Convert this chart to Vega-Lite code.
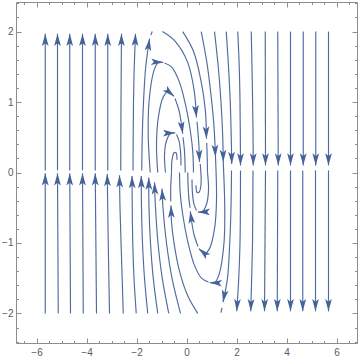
{
"$schema":"https://vega.github.io/schema/vega-lite/v6.json",
"width":341,"height":341,
"autosize":{"type":"none"},
"padding":{"left":16,"top":2,"right":3,"bottom":18},
"config":{"view":{"stroke":"#8c8c8c","strokeWidth":1},"axis":{"domain":false,"grid":false,"labelFont":"Liberation Sans","labelFontSize":10,"labelColor":"#5a5a5a","tickColor":"#8c8c8c","tickWidth":1,"title":null}},
"datasets":{
"lines":[
{"s":1,"i":0,"x":-5.65,"y":0.03},{"s":1,"i":1,"x":-5.65,"y":1.97},
{"s":2,"i":0,"x":-5.16,"y":0.03},{"s":2,"i":1,"x":-5.16,"y":1.97},
{"s":3,"i":0,"x":-4.67,"y":0.03},{"s":3,"i":1,"x":-4.67,"y":1.97},
{"s":4,"i":0,"x":-4.16,"y":0.03},{"s":4,"i":1,"x":-4.16,"y":1.97},
{"s":5,"i":0,"x":-3.65,"y":0.03},{"s":5,"i":1,"x":-3.65,"y":1.97},
{"s":6,"i":0,"x":-3.15,"y":0.03},{"s":6,"i":1,"x":-3.15,"y":1.97},
{"s":7,"i":0,"x":-2.63,"y":0.03},{"s":7,"i":1,"x":-2.62,"y":1.0},{"s":7,"i":2,"x":-2.6,"y":1.97},
{"s":8,"i":0,"x":-2.14,"y":0.03},{"s":8,"i":1,"x":-2.12,"y":1.0},{"s":8,"i":2,"x":-2.09,"y":1.5},{"s":8,"i":3,"x":-2.04,"y":1.97},
{"s":9,"i":0,"x":-1.79,"y":0.03},{"s":9,"i":1,"x":-1.77,"y":0.5},{"s":9,"i":2,"x":-1.72,"y":1.0},{"s":9,"i":3,"x":-1.63,"y":1.5},{"s":9,"i":4,"x":-1.48,"y":1.9},
{"s":10,"i":0,"x":-1.43,"y":1.95},{"s":10,"i":1,"x":-1.37,"y":2.0},
{"s":11,"i":0,"x":5.68,"y":2},{"s":11,"i":1,"x":5.68,"y":0.1},
{"s":12,"i":0,"x":5.17,"y":2},{"s":12,"i":1,"x":5.17,"y":0.1},
{"s":13,"i":0,"x":4.67,"y":2},{"s":13,"i":1,"x":4.67,"y":0.1},
{"s":14,"i":0,"x":4.16,"y":2},{"s":14,"i":1,"x":4.16,"y":0.1},
{"s":15,"i":0,"x":3.65,"y":2},{"s":15,"i":1,"x":3.67,"y":0.1},
{"s":16,"i":0,"x":3.15,"y":2},{"s":16,"i":1,"x":3.16,"y":0.1},
{"s":17,"i":0,"x":2.59,"y":2},{"s":17,"i":1,"x":2.63,"y":1.3},{"s":17,"i":2,"x":2.66,"y":0.6},{"s":17,"i":3,"x":2.67,"y":0.1},
{"s":18,"i":0,"x":2.05,"y":2},{"s":18,"i":1,"x":2.11,"y":1.5},{"s":18,"i":2,"x":2.14,"y":1.0},{"s":18,"i":3,"x":2.16,"y":0.1},
{"s":19,"i":0,"x":1.59,"y":2},{"s":19,"i":1,"x":1.68,"y":1.5},{"s":19,"i":2,"x":1.75,"y":1.0},{"s":19,"i":3,"x":1.79,"y":0.5},{"s":19,"i":4,"x":1.81,"y":0.12},
{"s":20,"i":0,"x":1.12,"y":2},{"s":20,"i":1,"x":1.27,"y":1.5},{"s":20,"i":2,"x":1.38,"y":1.0},{"s":20,"i":3,"x":1.45,"y":0.5},{"s":20,"i":4,"x":1.47,"y":0.15},
{"s":21,"i":0,"x":0.59,"y":2},{"s":21,"i":1,"x":0.82,"y":1.55},{"s":21,"i":2,"x":0.98,"y":1.1},{"s":21,"i":3,"x":1.1,"y":0.65},{"s":21,"i":4,"x":1.16,"y":0.22},
{"s":22,"i":0,"x":-0.15,"y":2},{"s":22,"i":1,"x":0.28,"y":1.72},{"s":22,"i":2,"x":0.58,"y":1.3},{"s":22,"i":3,"x":0.75,"y":0.9},{"s":22,"i":4,"x":0.8,"y":0.48},
{"s":23,"i":0,"x":0.81,"y":0.42},{"s":23,"i":1,"x":0.83,"y":0.2},{"s":23,"i":2,"x":0.84,"y":0.0},
{"s":24,"i":0,"x":-0.96,"y":2},{"s":24,"i":1,"x":-0.45,"y":1.86},{"s":24,"i":2,"x":0.05,"y":1.56},{"s":24,"i":3,"x":0.3,"y":1.18},{"s":24,"i":4,"x":0.4,"y":0.78},
{"s":25,"i":0,"x":0.42,"y":0.72},{"s":25,"i":1,"x":0.49,"y":0.42},{"s":25,"i":2,"x":0.52,"y":0.15},
{"s":26,"i":0,"x":-1.45,"y":0.0},{"s":26,"i":1,"x":-1.53,"y":0.5},{"s":26,"i":2,"x":-1.5,"y":1.0},{"s":26,"i":3,"x":-1.3,"y":1.45},{"s":26,"i":4,"x":-1.12,"y":1.565},{"s":26,"i":5,"x":-0.93,"y":1.56},
{"s":27,"i":0,"x":-0.88,"y":1.555},{"s":27,"i":1,"x":-0.6,"y":1.5},{"s":27,"i":2,"x":-0.3,"y":1.3},{"s":27,"i":3,"x":-0.05,"y":0.98},{"s":27,"i":4,"x":0.15,"y":0.6},{"s":27,"i":5,"x":0.25,"y":0.3},{"s":27,"i":6,"x":0.28,"y":0.0},
{"s":28,"i":0,"x":-1.15,"y":0.0},{"s":28,"i":1,"x":-1.2,"y":0.4},{"s":28,"i":2,"x":-1.12,"y":0.8},{"s":28,"i":3,"x":-0.92,"y":1.08},{"s":28,"i":4,"x":-0.72,"y":1.15},{"s":28,"i":5,"x":-0.5,"y":1.08},
{"s":29,"i":0,"x":-0.46,"y":1.05},{"s":29,"i":1,"x":-0.3,"y":0.88},{"s":29,"i":2,"x":-0.2,"y":0.68},{"s":29,"i":3,"x":-0.15,"y":0.55},
{"s":30,"i":0,"x":-0.14,"y":0.5},{"s":30,"i":1,"x":-0.08,"y":0.3},{"s":30,"i":2,"x":-0.05,"y":0.0},
{"s":31,"i":0,"x":-0.84,"y":0.0},{"s":31,"i":1,"x":-0.88,"y":0.25},{"s":31,"i":2,"x":-0.8,"y":0.45},{"s":31,"i":3,"x":-0.62,"y":0.56},{"s":31,"i":4,"x":-0.45,"y":0.56},
{"s":32,"i":0,"x":-0.4,"y":0.54},{"s":32,"i":1,"x":-0.3,"y":0.45},{"s":32,"i":2,"x":-0.24,"y":0.3},{"s":32,"i":3,"x":-0.22,"y":0.1},
{"s":33,"i":0,"x":-0.6,"y":0.0},{"s":33,"i":1,"x":-0.58,"y":0.17},{"s":33,"i":2,"x":-0.5,"y":0.28},{"s":33,"i":3,"x":-0.42,"y":0.28},{"s":33,"i":4,"x":-0.38,"y":0.18},
{"s":34,"i":0,"x":-5.65,"y":-2},{"s":34,"i":1,"x":-5.65,"y":-0.01},
{"s":35,"i":0,"x":-5.13,"y":-2},{"s":35,"i":1,"x":-5.16,"y":-0.01},
{"s":36,"i":0,"x":-4.64,"y":-2},{"s":36,"i":1,"x":-4.67,"y":-0.01},
{"s":37,"i":0,"x":-4.13,"y":-2},{"s":37,"i":1,"x":-4.16,"y":-0.01},
{"s":38,"i":0,"x":-3.6,"y":-2},{"s":38,"i":1,"x":-3.65,"y":-0.01},
{"s":39,"i":0,"x":-3.08,"y":-2},{"s":39,"i":1,"x":-3.13,"y":-1.0},{"s":39,"i":2,"x":-3.17,"y":-0.02},
{"s":40,"i":0,"x":-2.53,"y":-2},{"s":40,"i":1,"x":-2.6,"y":-1.2},{"s":40,"i":2,"x":-2.66,"y":-0.5},{"s":40,"i":3,"x":-2.68,"y":-0.04},
{"s":41,"i":0,"x":-2.01,"y":-2},{"s":41,"i":1,"x":-2.1,"y":-1.5},{"s":41,"i":2,"x":-2.15,"y":-1.0},{"s":41,"i":3,"x":-2.18,"y":-0.05},
{"s":42,"i":0,"x":-1.55,"y":-2},{"s":42,"i":1,"x":-1.68,"y":-1.5},{"s":42,"i":2,"x":-1.76,"y":-1.0},{"s":42,"i":3,"x":-1.8,"y":-0.5},{"s":42,"i":4,"x":-1.81,"y":-0.05},
{"s":43,"i":0,"x":-1.15,"y":-2},{"s":43,"i":1,"x":-1.33,"y":-1.5},{"s":43,"i":2,"x":-1.44,"y":-1.0},{"s":43,"i":3,"x":-1.5,"y":-0.5},{"s":43,"i":4,"x":-1.51,"y":-0.07},
{"s":44,"i":0,"x":-0.71,"y":-2},{"s":44,"i":1,"x":-0.97,"y":-1.5},{"s":44,"i":2,"x":-1.14,"y":-1.0},{"s":44,"i":3,"x":-1.24,"y":-0.5},{"s":44,"i":4,"x":-1.28,"y":-0.14},
{"s":45,"i":0,"x":-0.24,"y":-2},{"s":45,"i":1,"x":-0.58,"y":-1.5},{"s":45,"i":2,"x":-0.8,"y":-1.0},{"s":45,"i":3,"x":-0.93,"y":-0.55},{"s":45,"i":4,"x":-0.98,"y":-0.23},
{"s":46,"i":0,"x":0.45,"y":-2},{"s":46,"i":1,"x":0.05,"y":-1.75},{"s":46,"i":2,"x":-0.28,"y":-1.4},{"s":46,"i":3,"x":-0.5,"y":-1.0},{"s":46,"i":4,"x":-0.6,"y":-0.7},{"s":46,"i":5,"x":-0.62,"y":-0.47},
{"s":47,"i":0,"x":-0.63,"y":-0.41},{"s":47,"i":1,"x":-0.63,"y":-0.2},{"s":47,"i":2,"x":-0.6,"y":0.0},
{"s":48,"i":0,"x":5.68,"y":0.03},{"s":48,"i":1,"x":5.68,"y":-1.97},
{"s":49,"i":0,"x":5.16,"y":0.03},{"s":49,"i":1,"x":5.16,"y":-1.97},
{"s":50,"i":0,"x":4.65,"y":0.03},{"s":50,"i":1,"x":4.65,"y":-1.97},
{"s":51,"i":0,"x":4.16,"y":0.03},{"s":51,"i":1,"x":4.16,"y":-1.97},
{"s":52,"i":0,"x":3.65,"y":0.03},{"s":52,"i":1,"x":3.63,"y":-1.97},
{"s":53,"i":0,"x":3.16,"y":0.03},{"s":53,"i":1,"x":3.12,"y":-1.97},
{"s":54,"i":0,"x":2.66,"y":0.03},{"s":54,"i":1,"x":2.64,"y":-1.0},{"s":54,"i":2,"x":2.57,"y":-1.97},
{"s":55,"i":0,"x":2.16,"y":0.03},{"s":55,"i":1,"x":2.14,"y":-1.0},{"s":55,"i":2,"x":2.09,"y":-1.5},{"s":55,"i":3,"x":2.01,"y":-1.97},
{"s":56,"i":0,"x":1.8,"y":0.03},{"s":56,"i":1,"x":1.78,"y":-0.5},{"s":56,"i":2,"x":1.73,"y":-1.0},{"s":56,"i":3,"x":1.64,"y":-1.5},{"s":56,"i":4,"x":1.46,"y":-1.84},
{"s":57,"i":0,"x":1.42,"y":-1.92},{"s":57,"i":1,"x":1.38,"y":-1.99},
{"s":58,"i":0,"x":1.47,"y":0.15},{"s":58,"i":1,"x":1.53,"y":-0.5},{"s":58,"i":2,"x":1.5,"y":-1.0},{"s":58,"i":3,"x":1.3,"y":-1.45},{"s":58,"i":4,"x":1.12,"y":-1.565},{"s":58,"i":5,"x":0.93,"y":-1.56},
{"s":59,"i":0,"x":0.88,"y":-1.555},{"s":59,"i":1,"x":0.6,"y":-1.5},{"s":59,"i":2,"x":0.3,"y":-1.3},{"s":59,"i":3,"x":0.05,"y":-0.98},{"s":59,"i":4,"x":-0.15,"y":-0.6},{"s":59,"i":5,"x":-0.25,"y":-0.3},{"s":59,"i":6,"x":-0.28,"y":0.0},
{"s":60,"i":0,"x":1.16,"y":0.22},{"s":60,"i":1,"x":1.2,"y":-0.4},{"s":60,"i":2,"x":1.12,"y":-0.8},{"s":60,"i":3,"x":0.92,"y":-1.08},{"s":60,"i":4,"x":0.72,"y":-1.15},{"s":60,"i":5,"x":0.5,"y":-1.08},
{"s":61,"i":0,"x":0.46,"y":-1.05},{"s":61,"i":1,"x":0.3,"y":-0.88},{"s":61,"i":2,"x":0.2,"y":-0.68},{"s":61,"i":3,"x":0.15,"y":-0.55},
{"s":62,"i":0,"x":0.14,"y":-0.5},{"s":62,"i":1,"x":0.08,"y":-0.3},{"s":62,"i":2,"x":0.05,"y":0.0},
{"s":63,"i":0,"x":0.84,"y":0.0},{"s":63,"i":1,"x":0.88,"y":-0.25},{"s":63,"i":2,"x":0.8,"y":-0.45},{"s":63,"i":3,"x":0.62,"y":-0.56},{"s":63,"i":4,"x":0.45,"y":-0.56},
{"s":64,"i":0,"x":0.4,"y":-0.54},{"s":64,"i":1,"x":0.3,"y":-0.45},{"s":64,"i":2,"x":0.24,"y":-0.3},{"s":64,"i":3,"x":0.22,"y":-0.1},
{"s":65,"i":0,"x":0.55,"y":0.12},{"s":65,"i":1,"x":0.58,"y":-0.17},{"s":65,"i":2,"x":0.5,"y":-0.28},{"s":65,"i":3,"x":0.42,"y":-0.28},{"s":65,"i":4,"x":0.38,"y":-0.18}
],
"arrows":[
{"x":-5.65,"y":1.97,"a":0},{"x":-5.16,"y":1.97,"a":0},{"x":-4.67,"y":1.97,"a":0},{"x":-4.16,"y":1.97,"a":0},{"x":-3.65,"y":1.97,"a":0},{"x":-3.15,"y":1.97,"a":0},{"x":-2.6,"y":1.97,"a":0.5},{"x":-2.04,"y":1.97,"a":2.2},{"x":-1.48,"y":1.9,"a":7.6},
{"x":5.68,"y":0.1,"a":180},{"x":5.17,"y":0.1,"a":180},{"x":4.67,"y":0.1,"a":180},{"x":4.16,"y":0.1,"a":180},{"x":3.67,"y":0.1,"a":180},{"x":3.16,"y":0.1,"a":180},{"x":2.67,"y":0.1,"a":180},{"x":2.16,"y":0.1,"a":180},{"x":1.81,"y":0.12,"a":179},{"x":1.47,"y":0.15,"a":179},{"x":1.16,"y":0.22,"a":177},{"x":0.8,"y":0.48,"a":177.6},{"x":0.4,"y":0.78,"a":175},{"x":0.52,"y":0.15,"a":177.7},
{"x":-0.93,"y":1.56,"a":94},{"x":-0.5,"y":1.08,"a":132},{"x":-0.15,"y":0.55,"a":172},{"x":-0.45,"y":0.56,"a":90},
{"x":-5.65,"y":-0.01,"a":0},{"x":-5.16,"y":-0.01,"a":0},{"x":-4.67,"y":-0.01,"a":0},{"x":-4.16,"y":-0.01,"a":0},{"x":-3.65,"y":-0.01,"a":0},{"x":-3.17,"y":-0.02,"a":-1},{"x":-2.68,"y":-0.04,"a":-1},{"x":-2.18,"y":-0.05,"a":-1},{"x":-1.81,"y":-0.05,"a":-0.5},{"x":-1.51,"y":-0.07,"a":-0.5},{"x":-1.28,"y":-0.14,"a":-2.3},{"x":-0.98,"y":-0.23,"a":-3.2},{"x":-0.62,"y":-0.47,"a":-1.8},
{"x":5.68,"y":-1.97,"a":180},{"x":5.16,"y":-1.97,"a":180},{"x":4.65,"y":-1.97,"a":180},{"x":4.16,"y":-1.97,"a":180},{"x":3.63,"y":-1.97,"a":180.5},{"x":3.12,"y":-1.97,"a":181},{"x":2.57,"y":-1.97,"a":181.5},{"x":2.01,"y":-1.97,"a":183.5},{"x":1.46,"y":-1.84,"a":190.6},
{"x":0.93,"y":-1.56,"a":274},{"x":0.5,"y":-1.08,"a":312},{"x":0.15,"y":-0.55,"a":352},{"x":0.45,"y":-0.56,"a":270}
]
},
"layer":[
{"data":{"name":"lines"},
 "mark":{"type":"line","interpolate":"catmull-rom","stroke":"#4f6c9e","strokeWidth":1.15},
 "encoding":{
  "x":{"field":"x","type":"quantitative","scale":{"domain":[-6.82,6.82],"nice":false,"zero":false},"axis":{"orient":"bottom","values":[-6,-4,-2,0,2,4,6],"ticks":false,"labelPadding":4,"title":null}},
  "y":{"field":"y","type":"quantitative","scale":{"domain":[-2.42,2.42],"nice":false,"zero":false},"axis":{"orient":"left","values":[-2,-1,0,1,2],"ticks":false,"labelPadding":3,"format":"d","title":null}},
  "detail":{"field":"s","type":"nominal"},
  "order":{"field":"i","type":"quantitative"}}},
{"data":{"name":"arrows"},
 "mark":{"type":"point","shape":"M0,0 L0.55,2 L0,1.55 L-0.55,2 Z","filled":true,"fill":"#45639a","opacity":1,"strokeWidth":0,"size":150},
 "encoding":{
  "x":{"field":"x","type":"quantitative","scale":{"domain":[-6.82,6.82],"nice":false,"zero":false},"axis":{"orient":"bottom","values":[-6,-4,-2,0,2,4,6],"labels":false,"tickSize":-5,"title":null}},
  "y":{"field":"y","type":"quantitative","scale":{"domain":[-2.42,2.42],"nice":false,"zero":false},"axis":{"orient":"left","values":[-2,-1,0,1,2],"labels":false,"tickSize":-5,"title":null}},
  "angle":{"field":"a","type":"quantitative","scale":null}}},
{"data":{"name":"arrows"},
 "mark":{"type":"point","opacity":0},
 "encoding":{
  "x":{"field":"x","type":"quantitative","scale":{"domain":[-6.82,6.82],"nice":false,"zero":false},"axis":{"orient":"bottom","values":[-6.5,-5.5,-5,-4.5,-3.5,-3,-2.5,-1.5,-1,-0.5,0.5,1,1.5,2.5,3,3.5,4.5,5,5.5,6.5],"labels":false,"tickSize":-2.5,"title":null}},
  "y":{"field":"y","type":"quantitative","scale":{"domain":[-2.42,2.42],"nice":false,"zero":false},"axis":{"orient":"left","values":[-2.4,-2.2,-1.8,-1.6,-1.4,-1.2,-0.8,-0.6,-0.4,-0.2,0.2,0.4,0.6,0.8,1.2,1.4,1.6,1.8,2.2,2.4],"labels":false,"tickSize":-2.5,"title":null}}}},
{"data":{"name":"arrows"},
 "mark":{"type":"point","opacity":0},
 "encoding":{
  "x":{"field":"x","type":"quantitative","scale":{"domain":[-6.82,6.82],"nice":false,"zero":false},"axis":{"orient":"top","values":[-6,-4,-2,0,2,4,6],"labels":false,"tickSize":-5,"title":null}},
  "y":{"field":"y","type":"quantitative","scale":{"domain":[-2.42,2.42],"nice":false,"zero":false},"axis":{"orient":"right","values":[-2,-1,0,1,2],"labels":false,"tickSize":-5,"title":null}}}},
{"data":{"name":"arrows"},
 "mark":{"type":"point","opacity":0},
 "encoding":{
  "x":{"field":"x","type":"quantitative","scale":{"domain":[-6.82,6.82],"nice":false,"zero":false},"axis":{"orient":"top","values":[-6.5,-5.5,-5,-4.5,-3.5,-3,-2.5,-1.5,-1,-0.5,0.5,1,1.5,2.5,3,3.5,4.5,5,5.5,6.5],"labels":false,"tickSize":-2.5,"title":null}},
  "y":{"field":"y","type":"quantitative","scale":{"domain":[-2.42,2.42],"nice":false,"zero":false},"axis":{"orient":"right","values":[-2.4,-2.2,-1.8,-1.6,-1.4,-1.2,-0.8,-0.6,-0.4,-0.2,0.2,0.4,0.6,0.8,1.2,1.4,1.6,1.8,2.2,2.4],"labels":false,"tickSize":-2.5,"title":null}}}}
],
"resolve":{"axis":{"x":"independent","y":"independent"}}
}
